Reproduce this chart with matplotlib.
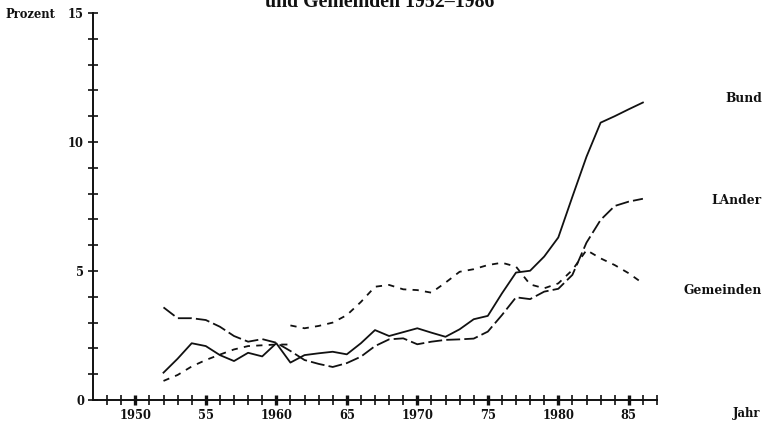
import matplotlib

matplotlib.use("Agg")
import matplotlib.pyplot as plt
from matplotlib.ticker import FixedLocator

plt.rcParams["lines.scale_dashes"] = False

# ---- data -----------------------------------------------------------------
years = list(range(1952, 1987))
bund = [1.06, 1.60, 2.20, 2.09, 1.74, 1.51, 1.83, 1.69, 2.20, 1.45,
        1.74, 1.81, 1.87, 1.77, 2.20, 2.71, 2.48, 2.63, 2.78, 2.61,
        2.45, 2.74, 3.13, 3.26, 4.13, 4.94, 5.01, 5.56, 6.30, 7.88,
        9.43, 10.75, 11.00, 11.27, 11.53]
laender = [3.59, 3.17, 3.17, 3.10, 2.84, 2.48, 2.26, 2.36, 2.22, 1.90,
           1.55, 1.40, 1.28, 1.43, 1.68, 2.09, 2.35, 2.39, 2.16, 2.26,
           2.33, 2.35, 2.38, 2.65, 3.29, 3.98, 3.91, 4.20, 4.31, 4.85,
           6.10, 6.98, 7.52, 7.69, 7.80]
# Gemeinden: old series up to 1961, new series from 1961 (break in the line)
gem_old_years = list(range(1952, 1962))
gem_old = [0.74, 0.97, 1.30, 1.55, 1.76, 1.96, 2.09, 2.12, 2.15, 2.15]
gem_new_years = list(range(1961, 1987))
gem_new = [2.89, 2.78, 2.87, 3.00, 3.29, 3.80, 4.39, 4.46, 4.29, 4.26,
           4.16, 4.55, 4.97, 5.07, 5.23, 5.32, 5.17, 4.48, 4.33, 4.52,
           5.04, 5.81, 5.49, 5.23, 4.91, 4.52]

x_major = [1950, 1955, 1960, 1965, 1970, 1975, 1980, 1985]
x_labels = ["1950", "55", "1960", "65", "1970", "75", "1980", "85"]
y_major = [0, 5, 10, 15]
y_labels = ["0", "5", "10", "15"]

W, H = 765, 426
INK = "#111111"
FONT = "DejaVu Serif"

fig = plt.figure(figsize=(W / 100, H / 100), dpi=100)
ax = fig.add_axes([93 / W, 1 - 400 / H, 564 / W, 387 / H])
ax.set_xlim(1947, 1987)
ax.set_ylim(0, 15)

lw = 1.3
ax.plot(years, bund, color=INK, lw=lw, clip_on=False)
ax.plot(years, laender, color=INK, lw=lw, dashes=(10, 3), clip_on=False)
ax.plot(gem_old_years, gem_old, color=INK, lw=lw, dashes=(4.5, 4.5), clip_on=False)
ax.plot(gem_new_years, gem_new, color=INK, lw=lw, dashes=(4.5, 4.5), clip_on=False)

# ---- axes styling -----------------------------------------------------------
for s in ("top", "right"):
    ax.spines[s].set_visible(False)
for s in ("left", "bottom"):
    ax.spines[s].set_linewidth(1.4)
    ax.spines[s].set_color(INK)

ax.xaxis.set_major_locator(FixedLocator(x_major))
ax.xaxis.set_minor_locator(FixedLocator([y for y in range(1948, 1988) if y not in x_major]))
ax.set_xticklabels(x_labels)
ax.yaxis.set_major_locator(FixedLocator(y_major))
ax.yaxis.set_minor_locator(FixedLocator([v for v in range(0, 16) if v not in y_major]))
ax.set_yticklabels(y_labels)

ax.tick_params(axis="x", which="major", direction="inout", length=7.5, width=2.4,
               color=INK, pad=2.5)
ax.tick_params(axis="x", which="minor", direction="inout", length=7, width=1.2, color=INK)
ax.tick_params(axis="y", which="both", direction="inout", length=7, width=1.2,
               color=INK, pad=3)
for lab in ax.get_xticklabels() + ax.get_yticklabels():
    lab.set_fontfamily(FONT)
    lab.set_fontweight("bold")
    lab.set_fontsize(8.3)
    lab.set_color(INK)

# ---- texts --------------------------------------------------------------------
txt = dict(fontfamily=FONT, fontweight="bold", color=INK)
fig.text(5 / W, 1 - 15 / H, "Prozent", ha="left", va="center", fontsize=8.3, **txt)
fig.text(733 / W, 1 - 414 / H, "Jahr", ha="left", va="center", fontsize=8.3, **txt)
fig.text(762 / W, 1 - 98 / H, "Bund", ha="right", va="center", fontsize=8.8, **txt)
fig.text(762 / W, 1 - 200 / H, "LAnder", ha="right", va="center", fontsize=8.8, **txt)
fig.text(762 / W, 1 - 290 / H, "Gemeinden", ha="right", va="center", fontsize=8.8, **txt)

fig.text(380 / W, 1 - 7 / H, "und Gemeinden 1952–1986", ha="center", va="baseline",
         fontfamily="Liberation Serif", fontweight="bold", fontsize=14.3, color=INK)

fig.savefig("out.png", dpi=100, facecolor="white")
